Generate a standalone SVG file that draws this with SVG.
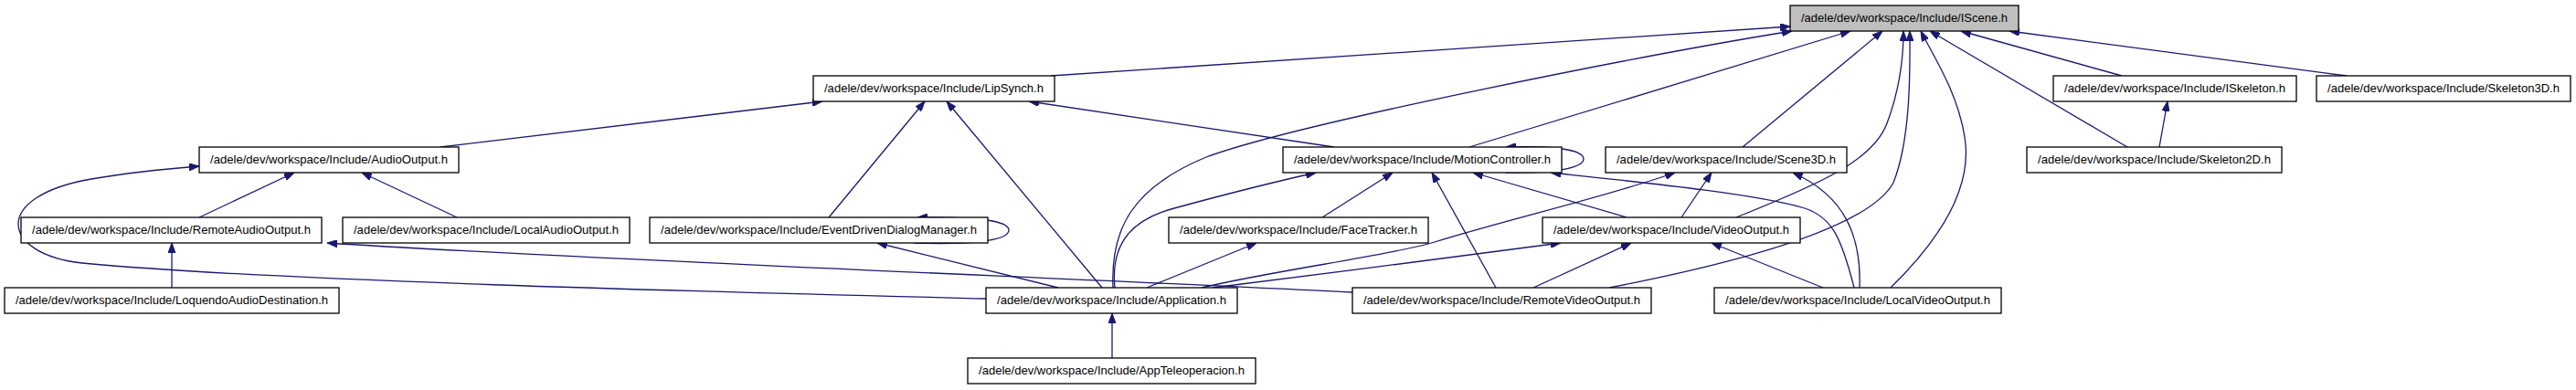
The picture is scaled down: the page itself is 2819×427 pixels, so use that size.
<svg xmlns="http://www.w3.org/2000/svg" width="2819" height="427" viewBox="0 0 2819 427">
<style>
.n rect{fill:#fff;stroke:#000;stroke-width:1.3}
.n text{font-family:"Liberation Sans",Arial,sans-serif;font-size:13px;fill:#000;text-anchor:middle}
#IScene rect{fill:#bfbfbf}
.e path{fill:none;stroke:#191970;stroke-width:1.3;marker-end:url(#ah)}
</style>
<defs>
<marker id="ah" markerUnits="userSpaceOnUse" markerWidth="11" markerHeight="8" refX="11" refY="4" orient="auto">
<path d="M0,0 L11,4 L0,8 z" fill="#191970" stroke="#191970" stroke-width="1"/>
</marker>
</defs>
<rect width="2819" height="427" fill="#fff"/>
<g id="edges" class="e">
<path d="M1150,83 L1959,29"/>
<path d="M1218,315 C1215,250 1240,205 1320,172 C1420,135 1800,60 1961,34"/>
<path d="M1608,161 L2025,34"/>
<path d="M1907,161 L2060,34"/>
<path d="M1900,238 C1995,200 2050,175 2065,135 C2080,95 2083,60 2083,34"/>
<path d="M1761,315 C1900,288 2045,250 2072,200 C2092,150 2090,70 2090,34"/>
<path d="M2069,315 C2115,270 2160,210 2150,150 C2142,100 2115,60 2102,34"/>
<path d="M2328,161 L2112,34"/>
<path d="M2322,83 L2146,34"/>
<path d="M2568,83 L2199,34"/>
<path d="M482,161 L900,111"/>
<path d="M1460,161 L1126,111"/>
<path d="M907,238 L1012,111"/>
<path d="M1206,315 L1036,111"/>
<path d="M218,238 L322,189"/>
<path d="M500,238 L396,189"/>
<path d="M1079,327 C800,320 300,308 90,288 C0,278 -10,215 100,196 C140,189 180,185 218,182"/>
<path d="M188,315 L188,266"/>
<path d="M1480,320 C1200,306 600,282 358,266"/>
<path d="M1000,266 C1060,268 1104,264 1104,252 C1104,241 1065,237 1004,238"/>
<path d="M1158,315 L960,266"/>
<path d="M1647,189 C1700,190 1733,184 1733,174 C1733,164 1700,159 1648,161"/>
<path d="M1220,315 C1215,265 1240,240 1285,228 C1340,213 1400,198 1440,189"/>
<path d="M1447,238 L1524,189"/>
<path d="M1637,315 L1567,189"/>
<path d="M1780,238 L1612,189"/>
<path d="M2029,315 C2015,260 2005,238 1975,228 C1920,212 1800,200 1697,189"/>
<path d="M1255,315 L1375,266"/>
<path d="M1315,315 C1400,295 1520,280 1570,265 C1650,240 1760,215 1833,189"/>
<path d="M1840,238 L1873,189"/>
<path d="M2035,315 C2037,260 2020,215 1962,189"/>
<path d="M1327,315 C1450,300 1600,280 1708,266"/>
<path d="M1678,315 L1785,266"/>
<path d="M1995,315 L1873,266"/>
<path d="M1217,392 L1217,343"/>
<path d="M2363,161 L2372,111"/>
</g>
<g id="IScene" class="n"><rect x="1959" y="6" width="250" height="28"/><text x="2084" y="24" textLength="226" lengthAdjust="spacingAndGlyphs">/adele/dev/workspace/Include/IScene.h</text></g>
<g id="LipSynch" class="n"><rect x="890" y="83" width="264" height="28"/><text x="1022" y="101" textLength="240" lengthAdjust="spacingAndGlyphs">/adele/dev/workspace/Include/LipSynch.h</text></g>
<g id="ISkeleton" class="n"><rect x="2247" y="83" width="266" height="28"/><text x="2380" y="101" textLength="242" lengthAdjust="spacingAndGlyphs">/adele/dev/workspace/Include/ISkeleton.h</text></g>
<g id="Skeleton3D" class="n"><rect x="2535" y="83" width="278" height="28"/><text x="2674" y="101" textLength="254" lengthAdjust="spacingAndGlyphs">/adele/dev/workspace/Include/Skeleton3D.h</text></g>
<g id="AudioOutput" class="n"><rect x="218" y="161" width="284" height="28"/><text x="360" y="179" textLength="260" lengthAdjust="spacingAndGlyphs">/adele/dev/workspace/Include/AudioOutput.h</text></g>
<g id="MotionController" class="n"><rect x="1404" y="161" width="305" height="28"/><text x="1556.5" y="179" textLength="281" lengthAdjust="spacingAndGlyphs">/adele/dev/workspace/Include/MotionController.h</text></g>
<g id="Scene3D" class="n"><rect x="1757" y="161" width="264" height="28"/><text x="1889" y="179" textLength="240" lengthAdjust="spacingAndGlyphs">/adele/dev/workspace/Include/Scene3D.h</text></g>
<g id="Skeleton2D" class="n"><rect x="2218" y="161" width="279" height="28"/><text x="2357.5" y="179" textLength="255" lengthAdjust="spacingAndGlyphs">/adele/dev/workspace/Include/Skeleton2D.h</text></g>
<g id="RemoteAudioOutput" class="n"><rect x="23" y="238" width="329" height="28"/><text x="187.5" y="256" textLength="305" lengthAdjust="spacingAndGlyphs">/adele/dev/workspace/Include/RemoteAudioOutput.h</text></g>
<g id="LocalAudioOutput" class="n"><rect x="375" y="238" width="314" height="28"/><text x="532" y="256" textLength="290" lengthAdjust="spacingAndGlyphs">/adele/dev/workspace/Include/LocalAudioOutput.h</text></g>
<g id="EventDrivenDialogManager" class="n"><rect x="711" y="238" width="370" height="28"/><text x="896" y="256" textLength="346" lengthAdjust="spacingAndGlyphs">/adele/dev/workspace/Include/EventDrivenDialogManager.h</text></g>
<g id="FaceTracker" class="n"><rect x="1279" y="238" width="284" height="28"/><text x="1421" y="256" textLength="260" lengthAdjust="spacingAndGlyphs">/adele/dev/workspace/Include/FaceTracker.h</text></g>
<g id="VideoOutput" class="n"><rect x="1688" y="238" width="282" height="28"/><text x="1829" y="256" textLength="258" lengthAdjust="spacingAndGlyphs">/adele/dev/workspace/Include/VideoOutput.h</text></g>
<g id="LoquendoAudioDestination" class="n"><rect x="5" y="315" width="366" height="28"/><text x="188" y="333" textLength="342" lengthAdjust="spacingAndGlyphs">/adele/dev/workspace/Include/LoquendoAudioDestination.h</text></g>
<g id="Application" class="n"><rect x="1079" y="315" width="275" height="28"/><text x="1216.5" y="333" textLength="251" lengthAdjust="spacingAndGlyphs">/adele/dev/workspace/Include/Application.h</text></g>
<g id="RemoteVideoOutput" class="n"><rect x="1480" y="315" width="327" height="28"/><text x="1643.5" y="333" textLength="303" lengthAdjust="spacingAndGlyphs">/adele/dev/workspace/Include/RemoteVideoOutput.h</text></g>
<g id="LocalVideoOutput" class="n"><rect x="1876" y="315" width="314" height="28"/><text x="2033" y="333" textLength="290" lengthAdjust="spacingAndGlyphs">/adele/dev/workspace/Include/LocalVideoOutput.h</text></g>
<g id="AppTeleoperacion" class="n"><rect x="1059" y="392" width="315" height="28"/><text x="1216.5" y="410" textLength="291" lengthAdjust="spacingAndGlyphs">/adele/dev/workspace/Include/AppTeleoperacion.h</text></g>
</svg>
